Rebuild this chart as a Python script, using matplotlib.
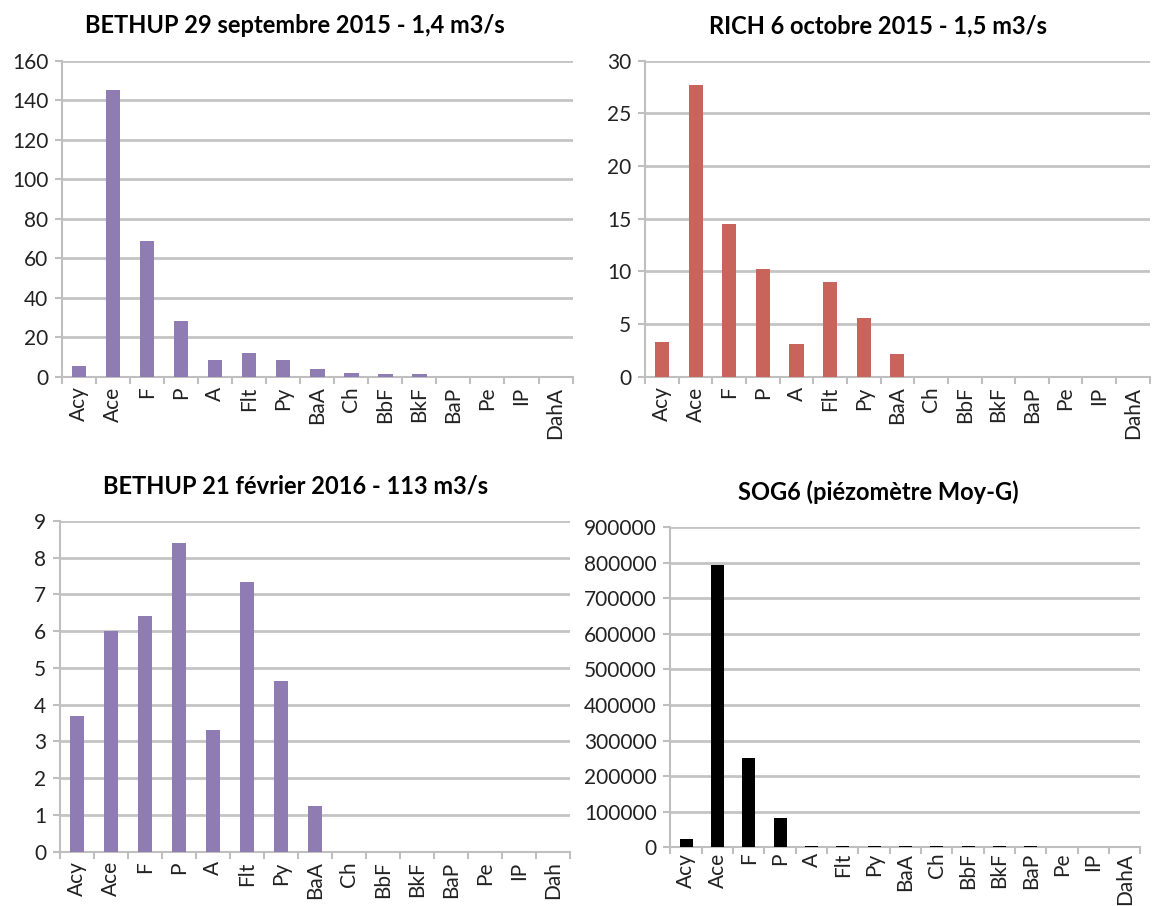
import numpy as np
import matplotlib
matplotlib.use("Agg")
import matplotlib.pyplot as plt

plt.rcParams['font.family'] = ['Lato', 'DejaVu Sans']

# categories (HAP)
hap = ['Acy', 'Ace', 'F', 'P', 'A', 'Flt', 'Py', 'BaA', 'Ch', 'BbF', 'BkF', 'BaP', 'Pe', 'IP', 'DahA']
hap_bl = ['Acy', 'Ace', 'F', 'P', 'A', 'Flt', 'Py', 'BaA', 'Ch', 'BbF', 'BkF', 'BaP', 'Pe', 'IP', 'Dah']

# values
bethup_sept = [5.5, 145, 69, 28.5, 8.5, 12, 8.5, 4, 2, 1.5, 1.5, 0, 0, 0, 0]
rich_oct = [3.3, 27.7, 14.5, 10.2, 3.1, 9.0, 5.6, 2.2, 0, 0, 0, 0, 0, 0, 0]
bethup_fev = [3.7, 6.0, 6.4, 8.4, 3.3, 7.35, 4.65, 1.25, 0, 0, 0, 0, 0, 0, 0]
sog6 = [22000, 795000, 252000, 83000, 3000, 3000, 3000, 3000, 3000, 3000, 3000, 3000, 0, 0, 0]

titles = ['BETHUP 29 septembre 2015 - 1,4 m3/s',
          'RICH 6 octobre 2015 - 1,5 m3/s',
          'BETHUP 21 février 2016 - 113 m3/s',
          'SOG6 (piézomètre Moy-G)']

fig = plt.figure(figsize=(11.52, 9.06), dpi=100)

# positions des axes [left, bottom, width, height]
boxes = [[0.054, 0.584, 0.443, 0.349],
         [0.560, 0.584, 0.438, 0.349],
         [0.052, 0.060, 0.443, 0.365],
         [0.582, 0.065, 0.408, 0.353]]
# decalage du titre vers la gauche (pixels), comme dans Excel
title_shift = [23, 19, 20, 27]
xlab_pad = [7, 7, 7, 4]

series = [bethup_sept, rich_oct, bethup_fev, sog6]
labels = [hap, hap, hap_bl, hap]
colors = ['#8E7CB3', '#C9645C', '#8E7CB3', '#000000']
ylims = [(0, 160, 20), (0, 30, 5), (0, 9, 1), (0, 900000, 100000)]

for i, (box, vals, labs, col, (y0, y1, ystep), title) in enumerate(zip(boxes, series, labels, colors, ylims, titles)):
    ax = fig.add_axes(box)
    x = np.arange(len(labs))
    ax.bar(x, vals, width=0.42, color=col, zorder=3)
    ax.set_xlim(-0.5, len(labs) - 0.5)
    ax.set_ylim(y0, y1)
    ax.set_yticks(np.arange(y0, y1 + ystep, ystep))
    ax.yaxis.grid(True, color='#C4C4C4', linewidth=2, zorder=0)
    ax.set_axisbelow(True)
    ax.set_xticks(x)
    ax.set_xticklabels(labs, rotation=90, fontsize=15, color='#222222')
    ax.set_xticks(np.arange(-0.5, len(labs), 1), minor=True)
    ax.tick_params(axis='x', which='major', length=0, pad=xlab_pad[i])
    ax.tick_params(axis='x', which='minor', length=5, width=1.5, color='#BFBFBF')
    ax.tick_params(axis='y', length=5, width=1.5, color='#BFBFBF', labelsize=15, labelcolor='#222222', pad=5)
    for s in ['top', 'right']:
        ax.spines[s].set_visible(False)
    for s in ['left', 'bottom']:
        ax.spines[s].set_color('#BFBFBF')
        ax.spines[s].set_linewidth(1.5)
    tx = 0.5 - title_shift[i] / (box[2] * 1152)
    ax.set_title(title, fontsize=17, fontweight='bold', pad=20, x=tx)

fig.savefig('out.png', dpi=100)
